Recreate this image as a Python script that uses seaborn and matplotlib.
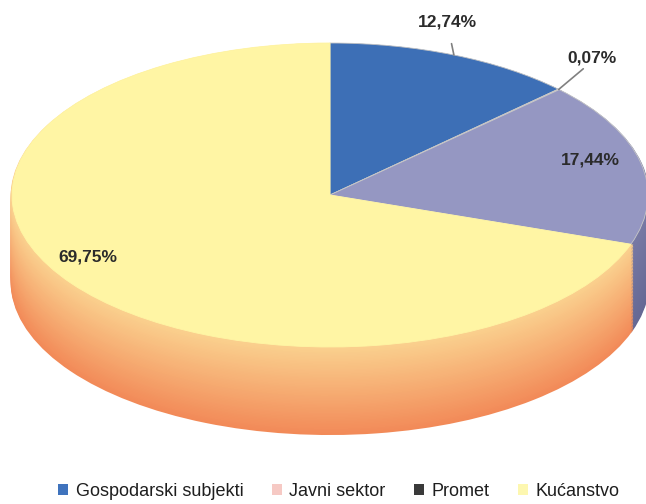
import numpy as np
import matplotlib
matplotlib.use("Agg")
import matplotlib.pyplot as plt
import seaborn as sns
from matplotlib.patches import Patch

# data
categories = ["Gospodarski subjekti", "Javni sektor", "Promet", "Kućanstvo"]
shares = [12.74, 0.07, 17.44, 69.75]
pct_labels = ["12,74%", "0,07%", "17,44%", "69,75%"]

top_colors = ["#3d6fb6", "#f2b8b0", "#9597c2", "#fff5a4"]
legend_colors = ["#3f73bd", "#f6c9c4", "#3a3a3a", "#fdf7b0"]
side_top = ["#2d558f", "#d89890", "#7779a4", "#fad08e"]
side_bot = ["#24477a", "#c88078", "#656894", "#f28a58"]

sns.set_theme(style="white")
plt.rcParams["font.family"] = ["Liberation Sans", "DejaVu Sans"]

fig = plt.figure(figsize=(6.46, 5.04), dpi=100)
ax = fig.add_axes([0, 0, 1, 1])

# side of the 3d pie: stacked layers going downward
depth = 0.57
n_layers = 60
for i in range(n_layers, 0, -1):
    t = i / n_layers
    cols = [tuple(np.array(matplotlib.colors.to_rgb(a)) * (1 - t) + np.array(matplotlib.colors.to_rgb(b)) * t)
            for a, b in zip(side_top, side_bot)]
    ws, _ = ax.pie(shares, colors=cols, startangle=90, counterclock=False,
                   center=(0, -depth * t), radius=1, frame=True,
                   wedgeprops=dict(linewidth=2))
    for w in ws:
        w.set_edgecolor(w.get_facecolor())
    if i == n_layers:
        # dark rim at the bottom-left of the base
        for w in ws:
            w.set_edgecolor(w.get_facecolor())

wedges, _ = ax.pie(shares, colors=top_colors, startangle=90, counterclock=False,
                   center=(0, 0), radius=1, frame=True,
                   wedgeprops=dict(linewidth=0.6, edgecolor="#c8c8c8"))
wedges[3].set_edgecolor(top_colors[3])

ax.set_aspect("auto")
# x: 318 px per unit, y: 152 px per unit
ax.set_xlim(-330 / 318, 316 / 318)
ax.set_ylim(-309 / 152, 195 / 152)
ax.axis("off")

# percentage labels
def rim(w, r=1.0):
    ang = np.deg2rad((w.theta1 + w.theta2) / 2)
    return r * np.cos(ang), r * np.sin(ang)

lab_kw = dict(fontsize=12.5, fontweight="bold", color="#2b2b2b")
# 12,74% with leader line
ax.annotate(pct_labels[0], xy=rim(wedges[0], 1.0), xytext=(447 / 646, 1 - 22 / 504),
            textcoords="figure fraction", ha="center", va="center",
            arrowprops=dict(arrowstyle="-", color="#808080", lw=1.2,
                            shrinkA=8, shrinkB=0), **lab_kw)
# 0,07%
ax.annotate(pct_labels[1], xy=rim(wedges[1], 1.0), xytext=(592 / 646, 1 - 58 / 504),
            textcoords="figure fraction", ha="center", va="center",
            arrowprops=dict(arrowstyle="-", color="#808080", lw=1.2,
                            connectionstyle="angle,angleA=0,angleB=40,rad=0",
                            shrinkA=30, shrinkB=0), **lab_kw)
ax.text(590 / 646, 1 - 160 / 504, pct_labels[2], transform=fig.transFigure,
        ha="center", va="center", **lab_kw)
ax.text(88 / 646, 1 - 257 / 504, pct_labels[3], transform=fig.transFigure,
        ha="center", va="center", **lab_kw)

handles = [Patch(facecolor=c, edgecolor="none") for c in legend_colors]
fig.legend(handles, categories, loc="center", bbox_to_anchor=(0.5 + 16 / 646, 1 - 491 / 504),
           ncol=4, frameon=False, fontsize=13, handlelength=0.55, handleheight=0.55,
           handletextpad=0.4, columnspacing=1.6, labelcolor="#1e1e1e")

fig.savefig("out.png", dpi=100)
